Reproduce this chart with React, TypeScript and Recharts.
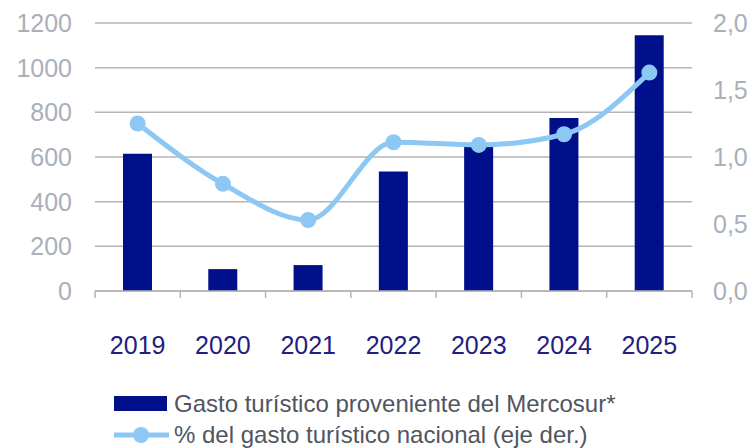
import { ComposedChart, Bar, Line, XAxis, YAxis, CartesianGrid } from "recharts";

const years = ["2019", "2020", "2021", "2022", "2023", "2024", "2025"];
const gastoMercosur = [615, 98, 116, 535, 655, 775, 1145];
const pctNacional = [1.25, 0.8, 0.53, 1.11, 1.09, 1.17, 1.63];
const leftTicks = [0, 200, 400, 600, 800, 1000, 1200];
const rightTicks = [0, 0.5, 1, 1.5, 2];

const data = years.map((year, i) => ({
  year,
  gasto: gastoMercosur[i],
  pct: pctNacional[i],
}));

const NAVY = "#000f8a";
const LIGHT = "#8dc8f4";
const GRID = "#b4b4b4";
const TICK = "#a9b0bb";
const FONT = "'Liberation Sans', Arial, sans-serif";
const LABEL_GAP = 45;

// year label plus the small tick marks that sit between categories
function YearTick(props: any) {
  const { x, y, payload, index, visibleTicksCount } = props;
  const half = payload.offset || 0;
  const base = y - LABEL_GAP;
  return (
    <g>
      <line x1={x - half} y1={base} x2={x - half} y2={base + 7} stroke={GRID} strokeWidth={1.5} />
      {index === visibleTicksCount - 1 && (
        <line x1={x + half} y1={base} x2={x + half} y2={base + 7} stroke={GRID} strokeWidth={1.5} />
      )}
      <text x={x} y={y} dy="0.71em" textAnchor="middle" fontSize={25} fill="#1f2080" fontFamily={FONT}>
        {payload.value}
      </text>
    </g>
  );
}

export default function App() {
  return (
    <div style={{ position: "absolute", left: 0, top: 0, width: 754, height: 448, background: "#fff", fontFamily: FONT }}>
      <style>{`body{margin:0}`}</style>
      <ComposedChart width={754} height={448} data={data} margin={{ top: 23, right: 0, left: 0, bottom: 97 }}>
        <CartesianGrid vertical={false} stroke={GRID} strokeWidth={1.5} yAxisId="left" />
        <XAxis
          dataKey="year"
          height={60}
          axisLine={{ stroke: GRID, strokeWidth: 1.5 }}
          tickLine={false}
          tickSize={0}
          tickMargin={LABEL_GAP}
          tick={<YearTick />}
        />
        <YAxis
          yAxisId="left"
          width={95}
          domain={[0, 1200]}
          ticks={leftTicks}
          axisLine={false}
          tickLine={false}
          tickMargin={17}
          tick={{ fontSize: 25, fill: TICK, fontFamily: FONT }}
        />
        <YAxis
          yAxisId="right"
          orientation="right"
          width={62}
          domain={[0, 2]}
          ticks={rightTicks}
          axisLine={false}
          tickLine={false}
          tickMargin={15}
          tickFormatter={(v: number) => v.toFixed(1).replace(".", ",")}
          tick={{ fontSize: 25, fill: TICK, fontFamily: FONT, textAnchor: "start" }}
        />
        <Bar yAxisId="left" dataKey="gasto" fill={NAVY} barSize={29} isAnimationActive={false} />
        <Line
          yAxisId="right"
          type="monotone"
          dataKey="pct"
          stroke={LIGHT}
          strokeWidth={5}
          dot={{ r: 8, fill: LIGHT, stroke: "none" }}
          isAnimationActive={false}
        />
      </ComposedChart>
      <div style={{ position: "absolute", left: 114, top: 388, fontSize: 24, color: "#50555f", lineHeight: "31px" }}>
        <div style={{ display: "flex", alignItems: "center" }}>
          <span style={{ display: "inline-block", width: 53, height: 15, background: NAVY, marginRight: 7 }} />
          <span>Gasto turístico proveniente del Mercosur*</span>
        </div>
        <div style={{ display: "flex", alignItems: "center" }}>
          <svg width={55} height={18} style={{ marginRight: 5 }}>
            <line x1={0} y1={9} x2={55} y2={9} stroke={LIGHT} strokeWidth={5} />
            <circle cx={27} cy={9} r={8} fill={LIGHT} />
          </svg>
          <span>% del gasto turístico nacional (eje der.)</span>
        </div>
      </div>
    </div>
  );
}
